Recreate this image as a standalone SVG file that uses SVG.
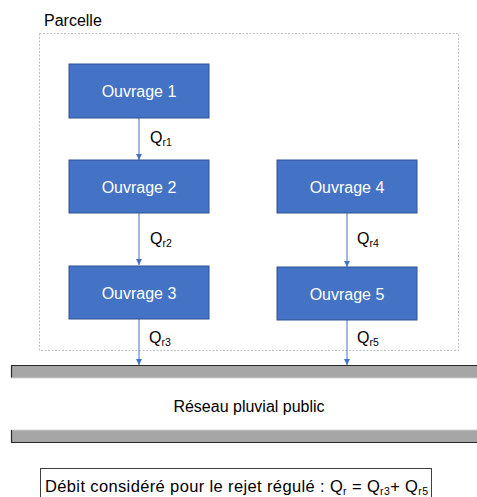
<svg xmlns="http://www.w3.org/2000/svg" width="477" height="497" viewBox="0 0 477 497">
<defs>
<style>
text{font-family:"Liberation Sans",Arial,sans-serif;}
.box{fill:#4472C4;stroke:#2F528F;stroke-width:1;}
.lbl{fill:#ffffff;font-size:16px;text-anchor:middle;}
.q{fill:#000;font-size:16px;}
.sub{font-size:10.5px;}
.conn{stroke:#4472C4;stroke-width:1;fill:none;marker-end:url(#ah);}
</style>
<marker id="ah" markerWidth="8" markerHeight="8" refX="6" refY="3" orient="auto" markerUnits="userSpaceOnUse">
<path d="M0,0 L6,3 L0,6 Z" fill="#4472C4"/>
</marker>
</defs>
<rect width="477" height="497" fill="#ffffff"/>
<g id="parcelle">
<rect x="39.5" y="33.5" width="419" height="317" fill="none" stroke="#BFBFBF" stroke-width="1" stroke-dasharray="2,1.5"/>
<text x="44" y="26" font-size="16" fill="#000">Parcelle</text>
</g>
<g id="connectors">
<line class="conn" x1="139" y1="118" x2="139" y2="160"/>
<line class="conn" x1="139" y1="213" x2="139" y2="265"/>
<line class="conn" x1="139" y1="319" x2="139" y2="365"/>
<line class="conn" x1="347" y1="213" x2="347" y2="267"/>
<line class="conn" x1="347" y1="320" x2="347" y2="365"/>
<text class="q" x="150" y="143">Q<tspan class="sub" dy="3">r1</tspan></text>
<text class="q" x="150" y="244">Q<tspan class="sub" dy="3">r2</tspan></text>
<text class="q" x="149" y="343">Q<tspan class="sub" dy="3">r3</tspan></text>
<text class="q" x="357" y="244">Q<tspan class="sub" dy="3">r4</tspan></text>
<text class="q" x="357" y="343">Q<tspan class="sub" dy="3">r5</tspan></text>
</g>
<g id="ouvrage1"><rect class="box" x="69" y="64" width="140" height="54"/><text class="lbl" x="139" y="97">Ouvrage 1</text></g>
<g id="ouvrage2"><rect class="box" x="69" y="160" width="140" height="53"/><text class="lbl" x="139" y="193">Ouvrage 2</text></g>
<g id="ouvrage3"><rect class="box" x="69" y="266" width="140" height="53"/><text class="lbl" x="139" y="299">Ouvrage 3</text></g>
<g id="ouvrage4"><rect class="box" x="277" y="160" width="140" height="53"/><text class="lbl" x="347" y="193">Ouvrage 4</text></g>
<g id="ouvrage5"><rect class="box" x="277" y="267" width="140" height="53"/><text class="lbl" x="347" y="300">Ouvrage 5</text></g>
<g id="reseau">
<rect x="11" y="365" width="470" height="13" fill="#A6A6A6"/>
<line x1="11" y1="365.5" x2="477" y2="365.5" stroke="#262626" stroke-width="1.2"/>
<line x1="11.5" y1="365" x2="11.5" y2="378" stroke="#262626" stroke-width="1.2"/>
<line x1="11" y1="378" x2="477" y2="378" stroke="#D0D0D0" stroke-width="1"/>
<rect x="11" y="430" width="470" height="13" fill="#A6A6A6"/>
<line x1="11" y1="430" x2="477" y2="430" stroke="#D0D0D0" stroke-width="1"/>
<line x1="11" y1="442.5" x2="477" y2="442.5" stroke="#262626" stroke-width="1.2"/>
<line x1="11.5" y1="430" x2="11.5" y2="443" stroke="#262626" stroke-width="1.2"/>
<text x="249" y="412" font-size="16" text-anchor="middle" fill="#000">Réseau pluvial public</text>
</g>
<g id="note">
<rect x="40.5" y="468.5" width="391" height="32" fill="#ffffff" stroke="#404040" stroke-width="1"/>
<text x="45" y="492" font-size="16.5" fill="#000" textLength="383" lengthAdjust="spacing">Débit considéré pour le rejet régulé : Q<tspan class="sub" dy="3">r</tspan><tspan dy="-3"> = Q</tspan><tspan class="sub" dy="3">r3</tspan><tspan dy="-3">+ Q</tspan><tspan class="sub" dy="3">r5</tspan></text>
</g>
</svg>
